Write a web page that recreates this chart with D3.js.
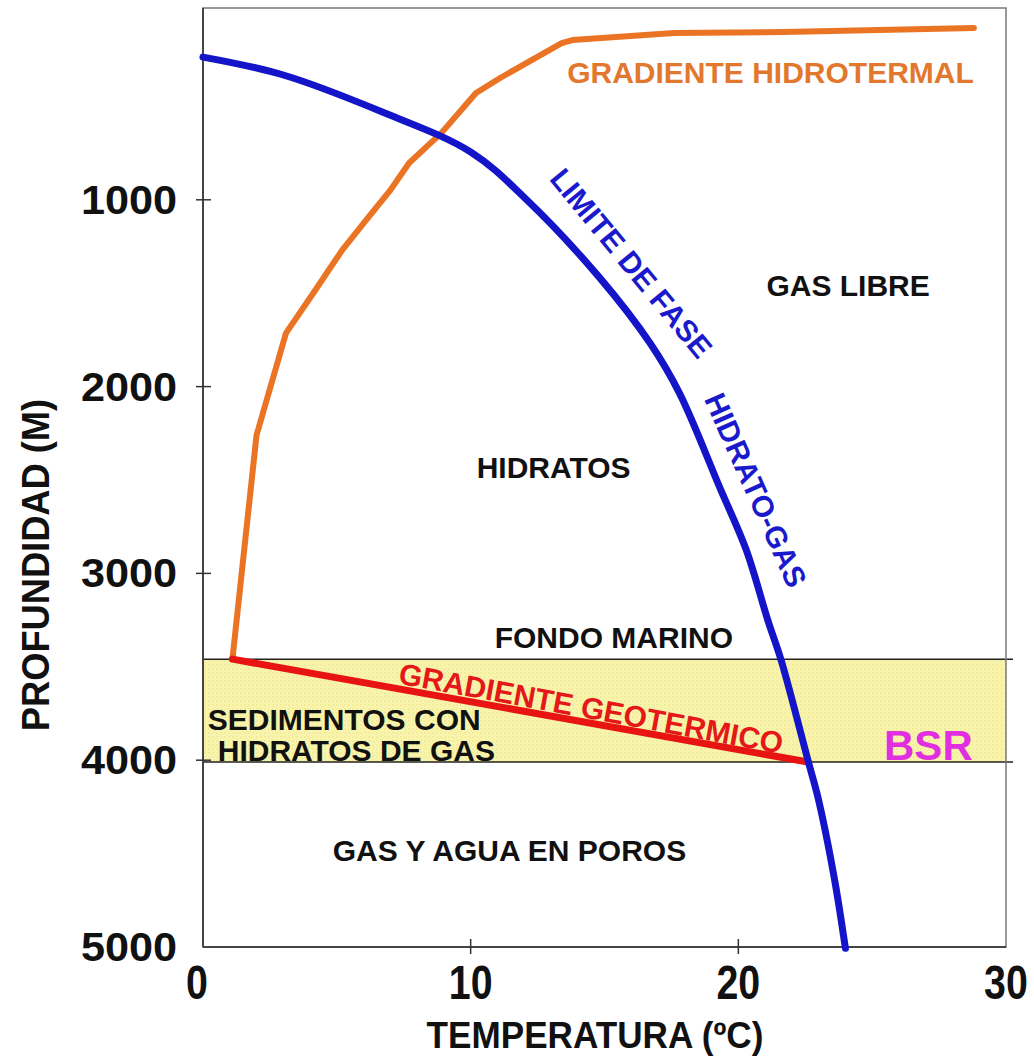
<!DOCTYPE html>
<html>
<head>
<meta charset="utf-8">
<script src="https://cdn.jsdelivr.net/npm/d3@7/dist/d3.min.js"></script>
<style>
  html, body { margin: 0; padding: 0; background: #fff; }
  svg { display: block; font-family: "Liberation Sans", Arial, sans-serif; font-weight: bold; }
</style>
</head>
<body>
<svg id="chart" width="1034" height="1059"></svg>
<script>
// ---------- data ----------
const xTicks = [0, 10, 20, 30];
const yTicks = [1000, 2000, 3000, 4000, 5000];

// Límite de fase hidrato-gas (temperature °C, depth m)
const phaseT = [0.0, 3.0, 6.7, 10.0, 12.1, 14.8, 16.7, 17.8, 19.3, 20.3, 21.1, 21.6, 22.6, 23.0, 23.6, 24.0];
const phaseD = [236, 332, 530, 744, 1001, 1414, 1767, 2035, 2538, 2876, 3250, 3465, 4000, 4214, 4643, 5007];

// Gradiente hidrotermal
const hydroT = [1.1, 2.0, 3.1, 4.2, 5.2, 6.1, 7.0, 7.7, 8.9, 10.2, 11.1, 13.4, 13.8, 17.6, 21.7, 28.8];
const hydroD = [3459, 2260, 1714, 1483, 1269, 1108, 948, 803, 643, 428, 348, 161, 145, 107, 102, 80];

// Gradiente geotérmico
const geoT = [1.1, 22.6];
const geoD = [3459, 4010];

// Zona de sedimentos con hidratos (fondo marino -> BSR)
const bandD = [3460, 4010];

// Etiquetas (texto, T, D, ángulo)
const labelText  = ["GRADIENTE HIDROTERMAL", "GAS LIBRE", "HIDRATOS", "FONDO MARINO", "GAS Y AGUA EN POROS", "BSR", "GRADIENTE GEOTERMICO", "LIMITE DE FASE", "HIDRATO-GAS"];
const labelT     = [21.2, 24.1, 13.1, 15.35, 11.45, 27.1, 14.5, 16.0, 20.65];
const labelD     = [321, 1457, 2431, 3341, 4482, 3920, 3722, 1339, 2554];
const labelAngle = [0, 0, 0, 0, 0, 0, 10.4, 50.5, 66];
const labelKind  = ["hydro", "plain", "plain", "plain", "plain", "bsr", "geo", "phase", "phase"];

const sedLines = ["SEDIMENTOS CON", "HIDRATOS DE GAS"];
const sedT = [0.18, 0.55];
const sedD = [3780, 3946];

// ---------- drawing ----------
const svg = d3.select("#chart");
const x = d3.scaleLinear().domain([0, 30]).range([203, 1006]);
const y = d3.scaleLinear().domain([0, 5000]).range([13, 947]);
const boxTop = 8;

const defs = svg.append("defs");
const pat = defs.append("pattern").attr("id", "dots").attr("width", 4).attr("height", 4).attr("patternUnits", "userSpaceOnUse");
pat.append("rect").attr("width", 4).attr("height", 4).attr("fill", "#f9f5b0");
pat.append("circle").attr("cx", 1).attr("cy", 1).attr("r", 0.8).attr("fill", "#ece379");
pat.append("circle").attr("cx", 3).attr("cy", 3).attr("r", 0.6).attr("fill", "#f1ea8e");

// yellow band
svg.append("rect")
  .attr("x", x(0)).attr("y", y(bandD[0]))
  .attr("width", x(30) - x(0)).attr("height", y(bandD[1]) - y(bandD[0]))
  .attr("fill", "url(#dots)");
bandD.forEach(d => {
  svg.append("line").attr("x1", x(0)).attr("x2", x(30) + 7)
    .attr("y1", y(d)).attr("y2", y(d))
    .attr("stroke", "#222").attr("stroke-width", 1.5);
});

// frame
svg.append("rect").attr("x", x(0)).attr("y", boxTop)
  .attr("width", x(30) - x(0)).attr("height", y(5000) - boxTop)
  .attr("fill", "none").attr("stroke", "#777").attr("stroke-width", 1.5);
svg.append("line").attr("x1", x(0)).attr("x2", x(0)).attr("y1", boxTop).attr("y2", y(5000))
  .attr("stroke", "#444").attr("stroke-width", 2);
svg.append("line").attr("x1", x(0)).attr("x2", x(30)).attr("y1", y(5000)).attr("y2", y(5000))
  .attr("stroke", "#444").attr("stroke-width", 2);

// ticks
yTicks.filter(t => t < 5000).forEach(t => {
  svg.append("line").attr("x1", x(0) - 7).attr("x2", x(0) + 8).attr("y1", y(t)).attr("y2", y(t))
    .attr("stroke", "#333").attr("stroke-width", 1.5);
});
xTicks.filter(t => t > 0 && t < 30).forEach(t => {
  svg.append("line").attr("x1", x(t)).attr("x2", x(t)).attr("y1", y(5000) - 8).attr("y2", y(5000) + 7)
    .attr("stroke", "#333").attr("stroke-width", 1.5);
});

// tick labels
yTicks.forEach(t => {
  svg.append("text")
    .attr("transform", `translate(${x(0) - 26},${y(t) + 14}) scale(1.08,1)`)
    .attr("text-anchor", "end").attr("font-size", 40).attr("fill", "#111")
    .text(d3.format("d")(t));
});
xTicks.forEach(t => {
  svg.append("text")
    .attr("transform", `translate(${x(t) - (t === 0 ? 6 : 0)},${999}) scale(0.82,1)`)
    .attr("text-anchor", "middle").attr("font-size", 48).attr("fill", "#111")
    .text(t);
});

// axis titles
svg.append("text")
  .attr("transform", `translate(595,1048) scale(0.95,1)`)
  .attr("text-anchor", "middle").attr("font-size", 37).attr("fill", "#111")
  .text("TEMPERATURA (ºC)");
svg.append("text")
  .attr("transform", `translate(49,565) rotate(-90) scale(0.93,1)`)
  .attr("text-anchor", "middle").attr("font-size", 39).attr("fill", "#111")
  .text("PROFUNDIDAD (M)");

// curves
const line = d3.line().x(d => x(d[0])).y(d => y(d[1]));
svg.append("path").datum(hydroT.map((t, i) => [t, hydroD[i]]))
  .attr("d", line).attr("fill", "none").attr("stroke", "#ea7424").attr("stroke-width", 6)
  .attr("stroke-linejoin", "round").attr("stroke-linecap", "round");
svg.append("path").datum(geoT.map((t, i) => [t, geoD[i]]))
  .attr("d", line).attr("fill", "none").attr("stroke", "#e81414").attr("stroke-width", 7)
  .attr("stroke-linecap", "round");
svg.append("path").datum(phaseT.map((t, i) => [t, phaseD[i]]))
  .attr("d", d3.line().x(d => x(d[0])).y(d => y(d[1])).curve(d3.curveCatmullRom.alpha(0.5)))
  .attr("fill", "none").attr("stroke", "#1414c8").attr("stroke-width", 7)
  .attr("stroke-linejoin", "round").attr("stroke-linecap", "round");

// labels
const colors = { hydro: "#e2782e", plain: "#111", bsr: "#e02ee0", geo: "#e41818", phase: "#1a1acc" };
const sizes = { hydro: 30, plain: 30, bsr: 42, geo: 30, phase: 30 };
labelText.forEach((txt, i) => {
  svg.append("text")
    .attr("transform", `translate(${x(labelT[i])},${y(labelD[i])}) rotate(${labelAngle[i]})`)
    .attr("text-anchor", "middle").attr("dominant-baseline", "central")
    .attr("font-size", sizes[labelKind[i]]).attr("fill", colors[labelKind[i]])
    .text(txt);
});
sedLines.forEach((txt, i) => {
  svg.append("text")
    .attr("x", x(sedT[i])).attr("y", y(sedD[i]))
    .attr("dominant-baseline", "central")
    .attr("font-size", 30).attr("fill", "#111")
    .text(txt);
});
</script>
</body>
</html>
